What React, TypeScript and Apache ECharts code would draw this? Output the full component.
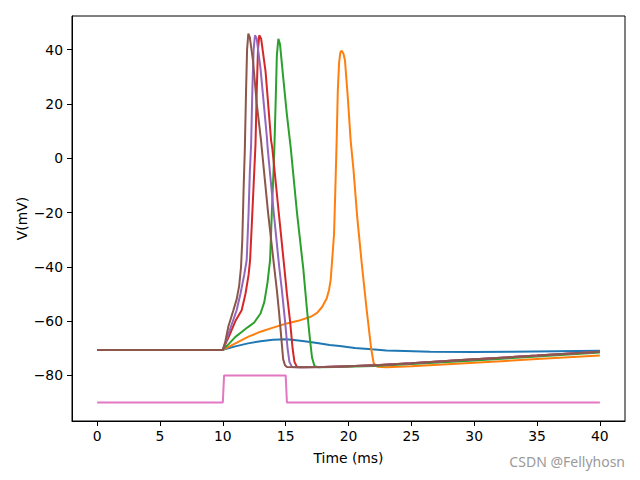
import React, { useEffect, useRef } from "react";
import * as echarts from "echarts";

const xTicks = [0, 5, 10, 15, 20, 25, 30, 35, 40];
const yTicks = [-80, -60, -40, -20, 0, 20, 40];

const restT = [0, 10];
const restV = [-70.6, -70.6];

const blueT = [10.5, 11, 12, 13, 14, 15, 15.5, 16.5, 17.5, 18.5, 19.3, 20.5, 21.85, 23, 24.5, 26.5, 30, 33, 36.5, 40];
const blueV = [-69.9, -69.3, -68.2, -67.4, -66.9, -66.7, -66.9, -67.4, -68.1, -68.8, -69.2, -69.9, -70.4, -70.8, -71.0, -71.3, -71.4, -71.3, -71.1, -70.9];

const orangeT = [10.5, 11, 12, 13, 14, 15, 16, 17, 17.5, 17.9, 18.27, 18.45, 18.58, 18.7, 18.85, 18.95, 19.05, 19.15, 19.25, 19.35, 19.46, 19.6, 19.72, 19.95, 20.17, 20.4, 20.7, 21.05, 21.45, 21.8, 22.0, 22.3, 23, 25, 27.5, 30, 35, 40];
const orangeV = [-69.4, -68.2, -65.8, -63.9, -62.4, -61.0, -59.9, -58.4, -57, -54.8, -51.6, -48.5, -44.9, -37.5, -28, -12, 5, 25, 35, 39, 39.6, 38.5, 36, 22, 6.6, -4.4, -22, -38.6, -56, -70, -75.5, -76.8, -77.0, -76.6, -76.0, -75.3, -74.0, -72.7];

const greenT = [10.5, 11, 11.5, 12, 12.5, 13, 13.3, 13.55, 13.76, 13.9, 14.05, 14.1, 14.2, 14.3, 14.42, 14.55, 14.8, 15.1, 15.4, 15.9, 16.4, 16.7, 16.94, 17.1, 17.3, 17.6, 19, 22, 25, 30, 35, 40];
const greenV = [-68.3, -65.8, -64.0, -62.2, -60.5, -57.2, -53, -46, -37.5, -20, -3, 3.6, 20, 38, 44, 42, 30, 16, 4, -20, -40.6, -56, -67, -73.5, -76.6, -77.0, -76.9, -76.5, -75.8, -74.5, -73.0, -71.6];

const redT = [10.2, 10.5, 11, 11.5, 11.8, 12.05, 12.17, 12.3, 12.45, 12.6, 12.7, 12.8, 12.9, 13.05, 13.4, 13.84, 13.94, 14.45, 14.9, 15.1, 15.35, 15.55, 15.7, 15.9, 16.3, 18, 20, 22.5, 25, 29, 35, 40];
const redV = [-68.5, -65.5, -60, -56, -50, -43, -37.5, -25, -10, 5, 25, 40, 45.3, 44, 32, 6.6, 3.6, -20, -40.6, -50, -60, -70, -75, -76.9, -77, -76.9, -76.6, -76.2, -75.5, -74.3, -72.7, -71.3];

const purpleT = [10.2, 10.5, 11.1, 11.4, 11.7, 11.9, 12.05, 12.15, 12.25, 12.35, 12.45, 12.56, 12.7, 13.0, 13.5, 13.57, 14.05, 14.5, 14.7, 14.95, 15.15, 15.3, 15.5, 16, 18, 20, 22.5, 25, 29, 35, 40];
const purpleV = [-68, -64, -56, -50, -43, -37.5, -20, -5, 5, 25, 40, 45.3, 44, 33, 8, 3.6, -20, -40.6, -48.6, -60, -70, -75, -76.9, -77, -76.9, -76.6, -76.2, -75.5, -74.3, -72.7, -71.3];

const brownT = [10.2, 10.44, 10.84, 11.1, 11.3, 11.45, 11.55, 11.65, 11.75, 11.85, 11.93, 12.03, 12.15, 12.4, 12.7, 13.04, 13.1, 13.6, 14.1, 14.3, 14.5, 14.65, 14.8, 14.95, 15.1, 16, 18, 20, 22.5, 25, 29, 35, 40];
const brownV = [-67.5, -62, -56, -52, -47, -40, -30, -12, 3, 25, 40, 45.9, 44.5, 36, 20, 6.6, 3.6, -20, -40.6, -48.6, -58, -66, -74, -76.3, -76.9, -77, -76.9, -76.6, -76.2, -75.5, -74.3, -72.7, -71.3];

const pinkT = [0, 10, 10.1, 15, 15.1, 40];
const pinkV = [-90, -90, -80, -80, -90, -90];

const pair = (t: number[], v: number[], withRest = true) => {
  const tt = withRest ? [...restT, ...t] : t;
  const vv = withRest ? [...restV, ...v] : v;
  return tt.map((x, i) => [x, vv[i]]);
};

const FONT = "DejaVu Sans";

export default function App() {
  const ref = useRef<HTMLDivElement>(null);
  useEffect(() => {
    if (!ref.current) return;
    const chart = echarts.init(ref.current, undefined, { renderer: "svg" });
    const mk = (name: string, color: string, data: number[][]) => ({
      name,
      type: "line",
      data,
      showSymbol: false,
      symbol: "none",
      lineStyle: { color, width: 2 },
      itemStyle: { color },
      animation: false,
    });
    chart.setOption({
      animation: false,
      grid: {
        left: 72,
        right: 15,
        top: 16,
        bottom: 59,
        show: true,
        borderColor: "#000",
        borderWidth: 1,
        backgroundColor: "#fff",
      },
      xAxis: {
        type: "value",
        min: -2,
        max: 42,
        name: "Time (ms)",
        nameLocation: "middle",
        nameGap: 30,
        nameMoveOverlap: false,
        nameTextStyle: { fontFamily: FONT, fontSize: 13.9, color: "#000" },
        axisLine: { show: true, onZero: false, lineStyle: { color: "#000", width: 1 } },
        axisTick: { show: true, customValues: xTicks, length: 5, lineStyle: { color: "#000" } },
        axisLabel: { customValues: xTicks, margin: 8, fontFamily: FONT, fontSize: 13.9, color: "#000" },
        splitLine: { show: false },
      },
      yAxis: {
        type: "value",
        min: -96.8,
        max: 52.4,
        name: "V(mV)",
        nameLocation: "middle",
        nameGap: 43,
        nameMoveOverlap: false,
        nameTextStyle: { fontFamily: FONT, fontSize: 13.9, color: "#000" },
        axisLine: { show: true, onZero: false, lineStyle: { color: "#000", width: 1 } },
        axisTick: { show: true, customValues: yTicks, length: 5, lineStyle: { color: "#000" } },
        axisLabel: {
          customValues: yTicks,
          margin: 9,
          fontFamily: FONT,
          fontSize: 13.9,
          color: "#000",
          formatter: (v: number) => (v < 0 ? "\u2212" + Math.abs(v) : String(v)),
        },
        splitLine: { show: false },
      },
      series: [
        mk("blue", "#1f77b4", pair(blueT, blueV)),
        mk("orange", "#ff7f0e", pair(orangeT, orangeV)),
        mk("green", "#2ca02c", pair(greenT, greenV)),
        mk("red", "#d62728", pair(redT, redV)),
        mk("purple", "#9467bd", pair(purpleT, purpleV)),
        mk("brown", "#8c564b", pair(brownT, brownV)),
        mk("pink", "#e377c2", pair(pinkT, pinkV, false)),
      ],
      graphic: [
        {
          type: "text",
          right: 15,
          top: 454,
          style: {
            text: "CSDN @Fellyhosn",
            fontFamily: "Noto Sans",
            fontSize: 14,
            fill: "#9a9a9a",
          },
        },
      ],
    });
    return () => chart.dispose();
  }, []);
  return (
    <div
      ref={ref}
      style={{ position: "fixed", left: 0, top: 0, width: 640, height: 480, background: "#fff" }}
    />
  );
}
